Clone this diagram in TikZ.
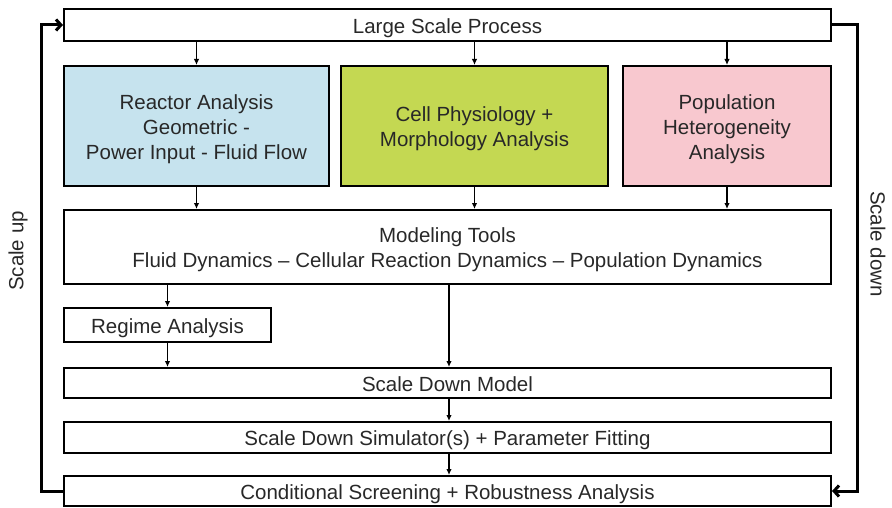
\documentclass[tikz,border=0pt]{standalone}
\usepackage{fontspec}
\setmainfont{Liberation Sans}
\usetikzlibrary{positioning,calc,arrows.meta}
\definecolor{reactorblue}{RGB}{198,227,238}
\definecolor{cellgreen}{RGB}{196,216,82}
\definecolor{popupink}{RGB}{248,200,207}
\definecolor{txtgray}{RGB}{40,40,40}
\newcommand{\topstrut}{\rule{0pt}{21pt}}
\newcommand{\botstrut}{\rule[-4.3pt]{0pt}{0pt}}
\tikzset{procbox/.style={draw=black, line width=2pt, align=center, inner sep=2pt, text=txtgray, font=\fontsize{20.5}{25}\selectfont}}
\tikzset{widebox/.style={procbox, minimum width=767pt}}
\tikzset{colbox/.style={procbox, minimum height=120pt}}
\tikzset{arr/.style={draw, line width=1.3pt, -{Latex[length=6pt,width=5.5pt]}}}
\tikzset{fb/.style={draw, line width=3pt, -{Straight Barb[length=5pt,width=11pt]}}}
\tikzset{sidelabel/.style={text=txtgray, font=\fontsize{20.5}{25}\selectfont}}

\begin{document}
\begin{tikzpicture}[x=1pt, y=-1pt]
       \useasboundingbox (0,0) rectangle (892,508);
       \node[widebox, minimum height=32pt] (lsp) at (447.5,25) {\topstrut Large Scale Process\botstrut};
       \node[colbox, fill=reactorblue, minimum width=265pt] (reactor) at (196.5,126)
           {\topstrut Reactor Analysis\\Geometric -\\Power Input - Fluid Flow\botstrut};
       \node[colbox, fill=cellgreen, minimum width=267pt] (cell) at (474.5,126)
           {\topstrut Cell Physiology +\\Morphology Analysis\botstrut};
       \node[colbox, fill=popupink, minimum width=208pt] (popu) at (727,126)
           {\topstrut Population\\Heterogeneity\\Analysis\botstrut};
       \node[widebox, minimum height=74pt] (tools) at (447.5,247)
           {\topstrut Modeling Tools\\Fluid Dynamics -- Cellular Reaction Dynamics -- Population Dynamics\botstrut};
       \node[procbox, minimum width=207pt, minimum height=34pt] (regime) at (167.5,325) {\topstrut Regime Analysis\botstrut};
       \node[widebox, minimum height=30pt] (sdm) at (447.5,383) {\topstrut Scale Down Model\botstrut};
       \node[widebox, minimum height=31pt] (sds) at (447.5,437.5) {\topstrut Scale Down Simulator(s) + Parameter Fitting\botstrut};
       \node[widebox, minimum height=30pt] (screen) at (447.5,491) {\topstrut Conditional Screening + Robustness Analysis\botstrut};
       \node[sidelabel, rotate=90] (up) at (18,251) {Scale up};
       \node[sidelabel, rotate=-90] (down) at (878,244) {Scale down};
       % downward flow
       \foreach \blk in {reactor, cell, popu} {
           \draw[arr] (lsp.south -| \blk) -- (\blk.north);
           \draw[arr] (\blk.south) -- (tools.north -| \blk);
       }
       \draw[arr] (tools.south -| regime) -- (regime.north);
       \draw[arr] (regime.south) -- (sdm.north -| regime);
       \draw[arr] ([xshift=1.5pt]tools.south) -- ([xshift=1.5pt]tools.south |- sdm.north);
       \draw[arr] ([xshift=1.5pt]sdm.south) -- ([xshift=1.5pt]sds.north);
       \draw[arr] ([xshift=1.5pt]sds.south) -- ([xshift=1.5pt]screen.north);
       % feedback loops
       \draw[fb] (screen.west) -- ++(-22,0) |- (lsp.west);
       \draw[fb] (lsp.east) -- ++(25,0) |- (screen.east);
\end{tikzpicture}
\end{document}
